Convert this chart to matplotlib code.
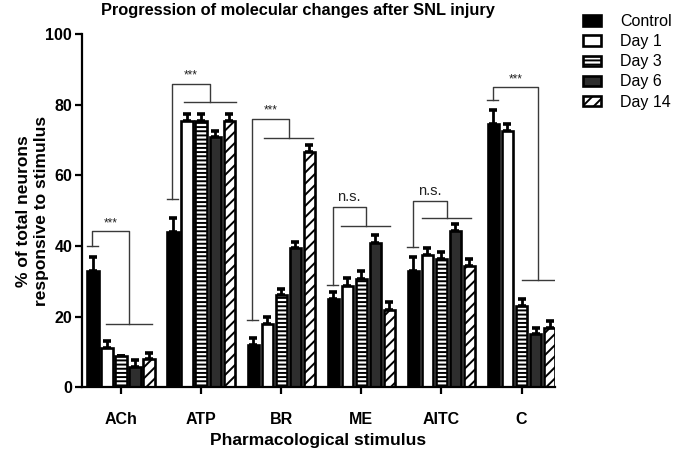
import numpy as np
import matplotlib
matplotlib.use('Agg')
import matplotlib.pyplot as plt
from matplotlib.patches import Patch

plt.rcParams['font.family'] = 'Liberation Sans'
plt.rcParams['hatch.linewidth'] = 1.4

stimuli = ['ACh', 'ATP', 'BR', 'ME', 'AITC', 'C']
series = ['Control', 'Day 1', 'Day 3', 'Day 6', 'Day 14']

control = [33, 44, 12, 25, 33, 74.5]
day1 = [11, 75.5, 18, 28.6, 37.4, 72.5]
day3 = [8.8, 75.5, 26, 30.6, 36.2, 23]
day6 = [5.8, 70.8, 39.4, 40.8, 44.2, 15]
day14 = [8, 75.5, 66.5, 22, 34.3, 16.8]

control_err = [4, 4, 2, 2, 4, 4]
day1_err = [2, 2, 2, 2.2, 2, 2]
day3_err = [0, 2, 1.8, 2.2, 2, 2]
day6_err = [2, 1.8, 1.7, 2.2, 2, 1.8]
day14_err = [1.8, 2, 2, 2, 2, 2]

# significance brackets: control tick, bracket top, lower line, label
tick_y = [40, 53.3, 19, 29, 39.7, 81.3]
top_y = [44.2, 86, 76, 51, 52.7, 85]
low_y = [17.8, 80.7, 70.5, 45.6, 47.9, 30.3]
low_x0 = [-0.19, -0.22, -0.21, -0.25, -0.24, 0.0]
low_x1 = [0.39, 0.43, 0.39, 0.36, 0.37, 0.41]
sig = ['***', '***', '***', 'n.s.', 'n.s.', '***']

values = [control, day1, day3, day6, day14]
errors = [control_err, day1_err, day3_err, day6_err, day14_err]
faces = ['black', 'white', 'white', '#2e2e2e', 'white']
hatches = [None, None, '----', None, '///']

fig = plt.figure(figsize=(6.77, 4.55), dpi=100)
ax = fig.add_axes([0.121, 0.149, 0.699, 0.776])

x = np.arange(len(stimuli))
w = 0.143
step = 0.175
for k in range(5):
    xs = x + (k - 2) * step
    ax.bar(xs, values[k], w, color=faces[k], edgecolor='black', linewidth=1.9,
           hatch=hatches[k], zorder=2)
    ax.errorbar(xs, values[k], yerr=[np.zeros(6), errors[k]], fmt='none',
                ecolor='black', elinewidth=2, capsize=3, capthick=2.6, zorder=1)

lc = '#3a3a3a'
for i in range(len(stimuli)):
    xl = i - 0.36
    xa = i + low_x0[i]
    xb = i + low_x1[i]
    xm = (xa + xb) / 2
    ax.plot([xl - 0.065, xl + 0.065], [tick_y[i], tick_y[i]], color=lc, lw=1)
    ax.plot([xl, xl, xm, xm], [tick_y[i], top_y[i], top_y[i], low_y[i]], color=lc, lw=1)
    ax.plot([xa, xb], [low_y[i], low_y[i]], color=lc, lw=1)
    if sig[i] == '***':
        ax.text((xl + xm) / 2, top_y[i] + 0.6, sig[i], ha='center', va='bottom',
                fontsize=8.5, color='#222222')
    else:
        ax.text((xl + xm) / 2, top_y[i] + 0.8, sig[i], ha='center', va='bottom',
                fontsize=10.5, color='#222222')

ax.set_xlim(-0.49, 5.42)
ax.set_ylim(0, 100)
ax.set_yticks([0, 20, 40, 60, 80, 100])
ax.set_xticks(x)
ax.set_xticklabels(stimuli, fontweight='bold', fontsize=11.5)
for lab in ax.get_yticklabels():
    lab.set_fontweight('bold')
    lab.set_fontsize(11.5)
ax.spines['top'].set_visible(False)
ax.spines['right'].set_visible(False)
ax.spines['left'].set_linewidth(1.6)
ax.spines['bottom'].set_linewidth(1.6)
ax.tick_params(axis='both', direction='out', length=5, width=1.6, pad=2)
ax.tick_params(axis='x', pad=13)

ax.set_xlabel('Pharmacological stimulus', fontweight='bold', fontsize=12.5, labelpad=4)
ax.set_ylabel('% of total neurons\nresponsive to stimulus', fontweight='bold',
              fontsize=12.5)
ax.yaxis.set_label_coords(-0.07, 0.5)
fig.text(0.44, 0.978, 'Progression of molecular changes after SNL injury',
         ha='center', va='center', fontweight='bold', fontsize=11.8)

handles = [Patch(facecolor=faces[k], edgecolor='black', linewidth=1.9, hatch=hatches[k])
           for k in range(5)]
fig.legend(handles, series, loc='upper left', bbox_to_anchor=(0.861, 0.969),
           frameon=False, fontsize=11.5, handlelength=1.15, handleheight=0.62,
           labelspacing=0.32, handletextpad=1.2, borderpad=0, borderaxespad=0)

fig.savefig('out.png', dpi=100)
